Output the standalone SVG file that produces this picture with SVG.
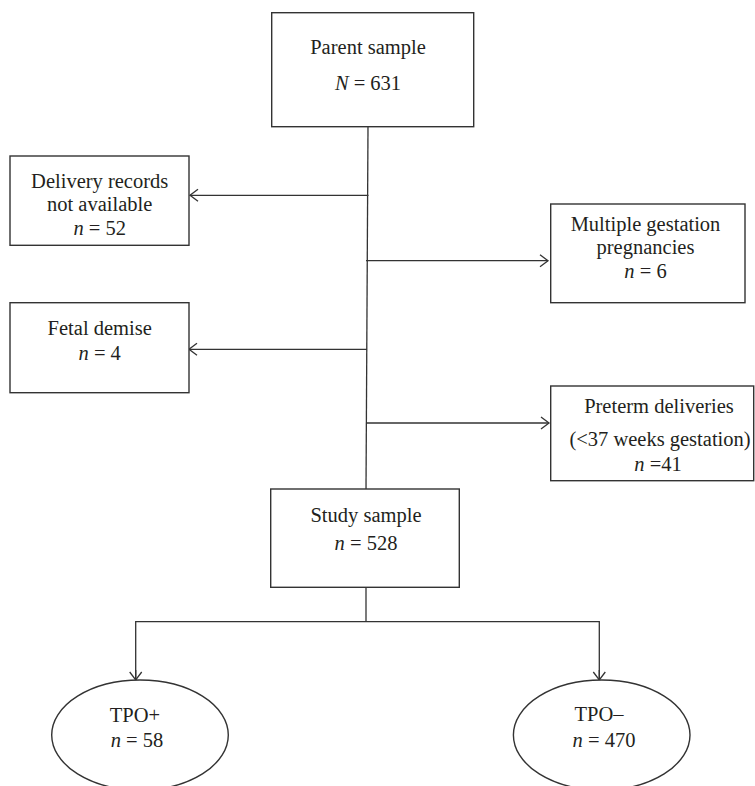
<svg xmlns="http://www.w3.org/2000/svg" width="755" height="786" viewBox="0 0 755 786">
<style>
.box{fill:#fff;stroke:#333;stroke-width:1.4}
.ln{fill:none;stroke:#333;stroke-width:1.3}
text{font-family:"Liberation Serif","Times New Roman",serif;font-size:20.5px;fill:#231f20;text-anchor:middle}
.i{font-style:italic}
</style>
<defs>
<marker id="arr" viewBox="-10 -7 12 14" refX="0" refY="0" markerWidth="12" markerHeight="14" markerUnits="userSpaceOnUse" orient="auto">
<path d="M-8,-6 L0,0 L-8,6" fill="none" stroke="#333" stroke-width="1.3"/>
</marker>
</defs>
<rect width="755" height="786" fill="#fff"/>
<g id="connectors">
<line class="ln" x1="368" y1="127" x2="366" y2="489"/>
<line class="ln" x1="368.5" y1="195.3" x2="190" y2="195.3" marker-end="url(#arr)"/>
<line class="ln" x1="366" y1="260.7" x2="548" y2="260.7" marker-end="url(#arr)"/>
<line class="ln" x1="367" y1="349.3" x2="189" y2="349.3" marker-end="url(#arr)"/>
<line class="ln" x1="366" y1="423" x2="549" y2="423" marker-end="url(#arr)"/>
<line class="ln" x1="366" y1="587" x2="366" y2="621.7"/>
<polyline class="ln" points="135.7,680 135.7,621.7 599.3,621.7 599.3,680"/>
<line class="ln" x1="135.7" y1="670" x2="135.7" y2="680" marker-end="url(#arr)"/>
<line class="ln" x1="599.3" y1="670" x2="599.3" y2="680" marker-end="url(#arr)"/>
</g>
<g id="parent">
<rect class="box" x="271.7" y="12.7" width="202" height="114"/>
<text x="368" y="54.3">Parent sample</text>
<text x="368" y="90"><tspan class="i">N</tspan> = 631</text>
</g>
<g id="delivery">
<rect class="box" x="10" y="156" width="179" height="89.3"/>
<text x="99.7" y="187.5">Delivery records</text>
<text x="99.7" y="211">not available</text>
<text x="99.7" y="234.5"><tspan class="i">n</tspan> = 52</text>
</g>
<g id="multiple">
<rect class="box" x="550.7" y="204" width="194.3" height="98.7"/>
<text x="645.5" y="230.5">Multiple gestation</text>
<text x="645.5" y="254">pregnancies</text>
<text x="645.5" y="277.5"><tspan class="i">n</tspan> = 6</text>
</g>
<g id="fetal">
<rect class="box" x="10" y="302.7" width="179" height="90"/>
<text x="99.7" y="335">Fetal demise</text>
<text x="99.7" y="360"><tspan class="i">n</tspan> = 4</text>
</g>
<g id="preterm">
<rect class="box" x="550.7" y="386" width="203" height="94.7"/>
<text x="659" y="413.3">Preterm deliveries</text>
<text x="660" y="446">(&lt;37 weeks gestation)</text>
<text x="658" y="471"><tspan class="i">n</tspan> =41</text>
</g>
<g id="study">
<rect class="box" x="270.7" y="489" width="188.6" height="98.3"/>
<text x="366" y="522.3">Study sample</text>
<text x="366" y="550"><tspan class="i">n</tspan> = 528</text>
</g>
<g id="tpo-pos">
<ellipse class="box" cx="140" cy="735" rx="88.3" ry="55"/>
<text x="135" y="721.7">TPO+</text>
<text x="137" y="746.7"><tspan class="i">n</tspan> = 58</text>
</g>
<g id="tpo-neg">
<ellipse class="box" cx="601.7" cy="735" rx="88.3" ry="55"/>
<text x="599" y="720.7">TPO–</text>
<text x="604" y="746.7"><tspan class="i">n</tspan> = 470</text>
</g>
</svg>
